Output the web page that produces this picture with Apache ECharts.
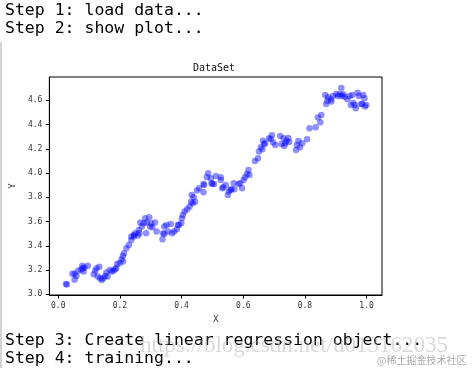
<!DOCTYPE html>
<html><head><meta charset="utf-8">
<script src="https://cdn.jsdelivr.net/npm/echarts@6/dist/echarts.min.js"></script>
<style>html,body{margin:0;padding:0;background:#fff}#c{width:472px;height:368px}</style>
</head><body><div id="c"></div>
<script>
const xs = [0.025,0.028,0.046,0.053,0.053,0.059,0.064,0.074,0.078,0.080,0.082,0.085,0.096,0.115,0.120,0.124,0.128,0.133,0.136,0.141,0.146,0.152,0.156,0.160,0.167,0.173,0.179,0.184,0.188,0.191,0.199,0.205,0.210,0.210,0.213,0.221,0.229,0.237,0.237,0.245,0.245,0.250,0.259,0.261,0.263,0.266,0.271,0.277,0.282,0.285,0.287,0.295,0.298,0.301,0.305,0.314,0.319,0.338,0.340,0.344,0.344,0.351,0.356,0.365,0.369,0.376,0.385,0.388,0.391,0.399,0.401,0.404,0.410,0.418,0.426,0.431,0.433,0.436,0.439,0.444,0.450,0.457,0.471,0.471,0.473,0.482,0.486,0.495,0.497,0.500,0.505,0.511,0.527,0.527,0.532,0.535,0.543,0.550,0.553,0.559,0.561,0.569,0.571,0.585,0.590,0.596,0.601,0.606,0.612,0.617,0.620,
0.638,0.648,0.651,0.657,0.662,0.664,0.668,0.671,0.684,0.689,0.693,0.697,0.704,0.720,0.724,0.731,0.733,0.736,0.740,0.746,0.749,0.771,0.774,0.779,0.784,0.791,0.807,0.815,0.835,0.842,0.850,0.853,0.866,0.869,0.873,0.875,0.884,0.886,0.891,0.902,0.907,0.913,0.918,0.920,0.924,0.929,0.938,0.945,0.949,0.954,0.957,0.962,0.965,0.971,0.975,0.982,0.986,0.989,0.993,0.995,0.999];
const ys = [3.085,3.080,3.170,3.170,3.120,3.150,3.195,3.205,3.236,3.214,3.187,3.220,3.236,3.165,3.195,3.214,3.146,3.228,3.132,3.118,3.132,3.150,3.180,3.146,3.200,3.187,3.195,3.206,3.214,3.250,3.256,3.289,3.270,3.316,3.338,3.379,3.407,3.448,3.476,3.489,3.476,3.503,3.484,3.530,3.503,3.591,3.558,3.586,3.627,3.503,3.591,3.635,3.558,3.586,3.553,3.591,3.517,3.454,3.503,3.558,3.498,3.572,3.517,3.580,3.503,3.517,3.536,3.572,3.572,3.586,3.627,3.654,3.682,3.701,3.723,3.764,3.819,3.750,3.800,3.764,3.855,3.874,3.841,3.910,3.902,3.965,3.998,3.957,3.915,3.910,3.910,3.976,3.965,3.943,3.874,3.882,3.902,3.819,3.847,3.860,3.866,3.915,3.866,3.910,3.915,3.874,3.943,3.965,3.992,4.025,3.984,
4.100,4.122,4.177,4.212,4.196,4.267,4.240,4.245,4.287,4.281,4.311,4.251,4.232,4.306,4.240,4.287,4.223,4.245,4.267,4.289,4.256,4.190,4.232,4.265,4.212,4.245,4.278,4.369,4.377,4.457,4.419,4.479,4.644,4.570,4.597,4.624,4.608,4.589,4.636,4.652,4.636,4.649,4.702,4.636,4.649,4.630,4.608,4.636,4.562,4.644,4.578,4.562,4.534,4.663,4.636,4.570,4.570,4.644,4.616,4.548,4.562];
const xTicks = [0.0,0.2,0.4,0.6,0.8,1.0];
const yTicks = [3.0,3.2,3.4,3.6,3.8,4.0,4.2,4.4,4.6];
const topLines = ['Step 1: load data...','Step 2: show plot...'];
const bottomLines = ['Step 3: Create linear regression object...','Step 4: training...'];
const titleText = 'DataSet';
const xName = 'X', yName = 'Y';
const watermark = 'https://blog.csdn.net/u013162035';
const badge = '@稀土掘金技术社区';

const points = xs.map((x,i)=>[x, ys[i]]);
const mono = '"DejaVu Sans Mono", monospace';
const tickLabel = {fontFamily: mono, fontSize: 8, color: '#333'};

const chart = echarts.init(document.getElementById('c'), null, {renderer:'canvas'});
const termFont = '16.5px "DejaVu Sans Mono"';
chart.setOption({
  animation: false,
  backgroundColor: '#fff',
  grid: {left: 46, top: 77, width: 336, height: 218, show: true, borderColor: '#000', borderWidth: 1, backgroundColor: 'transparent'},
  xAxis: {
    type: 'value', min: -0.0289, max: 1.050,
    name: xName, nameLocation: 'middle', nameGap: 20,
    nameTextStyle: {fontFamily: mono, fontSize: 9, color: '#333'},
    axisLine: {show: true, onZero: false, lineStyle: {color: '#000', width: 1}},
    axisTick: {show: true, length: 3.5, lineStyle: {color: '#000'}, customValues: xTicks},
    axisLabel: Object.assign({customValues: xTicks, margin: 7, formatter: v => v.toFixed(1)}, tickLabel),
    splitLine: {show: false}
  },
  yAxis: {
    type: 'value', min: 2.994, max: 4.792,
    name: yName, nameLocation: 'middle', nameGap: 29,
    nameTextStyle: {fontFamily: mono, fontSize: 9, color: '#333'},
    axisLine: {show: true, onZero: false, lineStyle: {color: '#000', width: 1}},
    axisTick: {show: true, length: 3.5, lineStyle: {color: '#000'}, customValues: yTicks},
    axisLabel: Object.assign({customValues: yTicks, margin: 7, formatter: v => v.toFixed(1)}, tickLabel),
    splitLine: {show: false}
  },
  series: [{
    type: 'scatter', data: points, symbolSize: 6.5,
    itemStyle: {color: 'rgba(0,0,255,0.55)', borderWidth: 0}
  }],
  graphic: [
    {type:'text', left: 5, top: 2, style: {text: topLines[0], font: termFont, fill: '#000'}},
    {type:'text', left: 5, top: 20, style: {text: topLines[1], font: termFont, fill: '#000'}},
    {type:'text', left: 5, top: 332, style: {text: bottomLines[0], font: termFont, fill: '#000'}},
    {type:'text', left: 5, top: 350, style: {text: bottomLines[1], font: termFont, fill: '#000'}},
    {type:'text', x: 214, y: 68, style: {text: titleText, font: '10px "DejaVu Sans Mono"', fill: '#111', align: 'center', verticalAlign: 'middle'}},
    {type:'text', left: 140, top: 334, z: 100, style: {text: watermark, font: '23px "Liberation Serif"', fill: 'rgba(170,170,170,0.45)'}},
    {type:'text', left: 377, top: 355, z: 100, style: {text: badge, font: '10px "Noto Sans CJK SC"', fill: 'rgba(150,150,150,0.8)'}},
    {type:'rect', shape: {x: 0, y: 42, width: 2, height: 326}, style: {fill: '#d4d4d4'}}
  ]
});
</script></body></html>
